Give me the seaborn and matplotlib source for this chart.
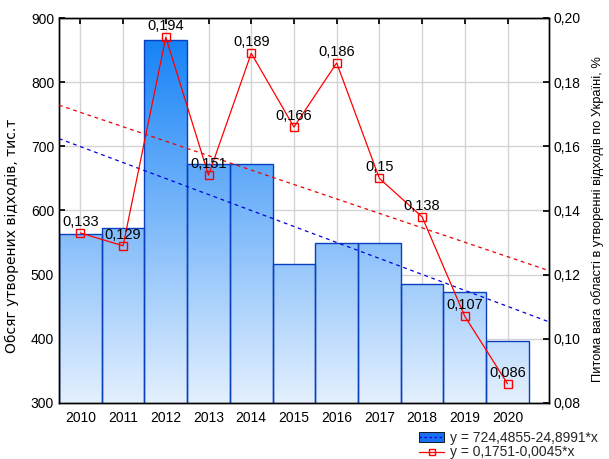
import numpy as np
import pandas as pd
import matplotlib
matplotlib.use("Agg")
import matplotlib.pyplot as plt
import seaborn as sns
from matplotlib.colors import LinearSegmentedColormap
from matplotlib.lines import Line2D
from matplotlib.patches import Patch

years = ["2010", "2011", "2012", "2013", "2014", "2015", "2016", "2017", "2018", "2019", "2020"]
waste = [564, 572, 865, 672, 672, 517, 550, 550, 486, 473, 397]
share = [0.133, 0.129, 0.194, 0.151, 0.189, 0.166, 0.186, 0.150, 0.138, 0.107, 0.086]
share_labels = ["0,133", "0,129", "0,194", "0,151", "0,189", "0,166", "0,186", "0,15", "0,138", "0,107", "0,086"]
trend_waste = (724.4855, -24.8991)
trend_share = (0.1751, -0.0045)
legend_labels = ["y = 724,4855-24,8991*x", "y = 0,1751-0,0045*x"]

sns.set_theme(style="white")
plt.rcParams["font.family"] = ["Liberation Sans", "DejaVu Sans"]

FS = 10

fig = plt.figure(figsize=(6.09, 4.59), dpi=100)
ax = fig.add_axes([59/609, 56/459, 490/609, 385/459])

df = pd.DataFrame({"year": years, "waste": waste})
sns.barplot(data=df, x="year", y="waste", width=1.0, color="#5da8f9", ax=ax,
            edgecolor="#0a3fc0", linewidth=1.0, zorder=2)

xmin, xmax = -0.5, 10.97
ax.set_xlim(xmin, xmax)
ax.set_ylim(300, 900)

# gradient fill clipped to bars
cmap = LinearSegmentedColormap.from_list("g", ["#e4f0fe", "#0a7cf6"])
grad = np.linspace(0, 1, 256).reshape(-1, 1)
for p in ax.patches:
    im = ax.imshow(grad, extent=[xmin, xmax, 300, 900], origin="lower", aspect="auto",
                   cmap=cmap, zorder=2.1)
    im.set_clip_path(p)
    p.set_facecolor("none")
    p.set_zorder(2.2)
ax.set_xlim(xmin, xmax)
ax.set_ylim(300, 900)

ax.set_yticks([300, 400, 500, 600, 700, 800, 900])
ax.set_yticklabels(["300", "400", "500", "600", "700", "800", "900"])
ax.grid(True, color="#d4d4d4", linewidth=1.0, zorder=0)
ax.set_axisbelow(True)

xs = np.array([xmin, xmax])
ax.plot(xs, trend_waste[0] + trend_waste[1] * (xs + 1), color="#0000dd", lw=0.9,
        dashes=(3, 3), zorder=3)

ax.set_xlabel("")
ax.set_ylabel("Обсяг утворених відходів, тис.т", fontsize=10, color="black",
              family=["DejaVu Sans"])
ax.yaxis.set_label_coords(-40/490, 0.434)
ax.tick_params(axis="both", direction="in", length=4, labelsize=FS, colors="black",
               top=True, bottom=True, left=True)
ax.tick_params(axis="x", pad=6)
for s in ax.spines.values():
    s.set_color("black")
    s.set_linewidth(1.0)

ax2 = ax.twinx()
ax2.set_ylim(0.08, 0.20)
ax2.set_yticks([0.08, 0.10, 0.12, 0.14, 0.16, 0.18, 0.20])
ax2.set_yticklabels(["0,08", "0,10", "0,12", "0,14", "0,16", "0,18", "0,20"])
ax2.tick_params(axis="y", direction="in", length=4, labelsize=FS, colors="black", right=True)
ax2.plot(xs, trend_share[0] + trend_share[1] * (xs + 1), color="#ee0000", lw=0.9,
         dashes=(3, 3), zorder=3)
pos = np.arange(len(years))
sns.lineplot(x=pos, y=share, ax=ax2, color="#ff0000", lw=0.9, marker="s", markersize=5.5,
             markerfacecolor="none", markeredgecolor="#ff0000", markeredgewidth=1.0,
             zorder=4, legend=False)
for x, y, t in zip(pos, share, share_labels):
    ax2.annotate(t, (x, y), xytext=(0, 8), textcoords="offset points", ha="center",
                 va="center", fontsize=FS + 0.5, color="black", zorder=5)
ax2.set_xlim(xmin, xmax)
ax2.set_ylabel("Питома вага області в утворенні відходів по Україні, %", fontsize=9.3,
               color="black", rotation=90)
ax2.yaxis.set_label_coords(1 + 42/490, 0.478)
for s in ax2.spines.values():
    s.set_color("black")
    s.set_linewidth(1.0)

h1 = (Patch(facecolor="#1a6ff0", edgecolor="black", linewidth=0.6),
      Line2D([0], [0], color="#0000dd", lw=0.9, dashes=(2, 2)))
h2 = Line2D([0], [0], color="#ff0000", lw=0.9, marker="s", markersize=5,
            markerfacecolor="none", markeredgecolor="#ff0000")
fig.legend([h1, h2], legend_labels, loc="lower right", bbox_to_anchor=(1.0, -0.025),
           frameon=False, fontsize=FS, handlelength=1.8, handletextpad=0.4,
           labelspacing=0.05, borderpad=0.3)

fig.savefig("out.png", dpi=100)
